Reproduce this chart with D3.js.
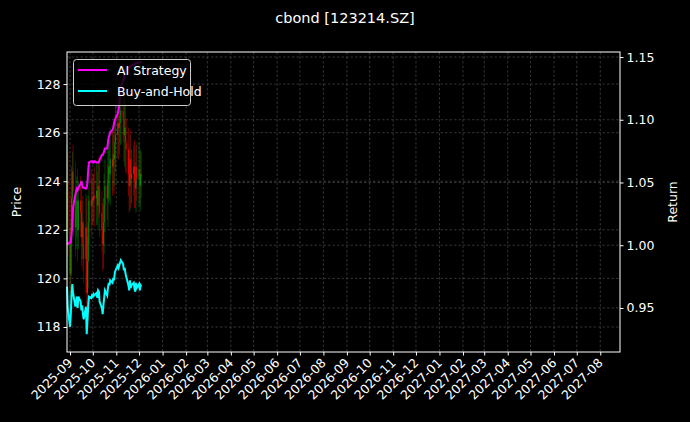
<!DOCTYPE html>
<html><head><meta charset="utf-8">
<script src="https://cdn.jsdelivr.net/npm/d3@7"></script>
<style>body{margin:0;background:#000}text{font-family:"DejaVu Sans",sans-serif}</style>
</head><body><svg id="c" width="690" height="422"></svg>
<script>
const startDate = "2025-08-28", endDate = "2025-12-04";
const xDomain = ["2025-08-28", "2027-08-27"];
const priceTicks = [118,120,122,124,126,128];
const returnTicks = [0.95,1.00,1.05,1.10,1.15];
const aiReturn = [1.002,1.001,1.002,1.003,1.008,1.016,1.030,1.040,1.043,1.045,
1.044,1.046,1.049,1.051,1.048,1.046,1.046,1.045,1.046,1.050,
1.060,1.066,1.067,1.067,1.066,1.066,1.067,1.066,1.066,1.066,
1.066,1.068,1.072,1.072,1.073,1.075,1.077,1.077,1.082,1.086,
1.088,1.090,1.092,1.094,1.097,1.100,1.101,1.105,1.108,1.113,
1.120,1.126,1.131,1.134,1.137,1.139,1.140,1.141,1.142,1.142,
1.143,1.143,1.144,1.144,1.145,1.145,1.145,1.146,1.146,1.146,1.147];
const bhReturn = [0.967,0.950,0.935,0.945,0.960,0.969,
0.962,0.951,0.955,0.959,0.950,
0.959,0.955,0.948,0.952,0.945,0.941,
0.951,0.929,0.940,0.952,
0.959,0.958,0.960,0.959,0.961,0.960,0.962,
0.958,0.964,0.963,0.955,0.950,0.945,0.952,
0.958,0.964,0.960,0.966,0.970,0.968,0.972,
0.970,0.974,0.972,0.978,0.980,0.984,0.982,
0.984,0.986,0.988,0.985,0.980,0.982,0.978,
0.975,0.968,0.964,0.972,0.966,0.968,0.970,
0.965,0.963,0.970,0.966,0.969,0.964,0.968,0.967];
const closePrice = [124.0,122.1,120.2,121.4,123.3,124.4,
123.6,122.1,122.7,123.2,122.0,
123.2,122.7,121.7,122.3,121.4,120.8,
122.1,119.4,120.7,122.3,
123.2,123.0,123.3,123.2,123.4,123.3,123.6,
123.0,123.8,123.7,122.7,122.0,121.4,122.3,
123.0,123.8,123.3,124.1,124.6,124.3,124.9,
124.6,125.1,124.9,125.6,125.9,126.4,126.2,
126.4,126.7,126.9,126.6,125.9,126.2,125.6,
125.3,124.3,123.8,124.9,124.1,124.3,124.6,
124.0,123.7,124.6,124.1,124.5,123.8,124.3,124.2];
const openPrice = [121.5,124.0,122.1,120.2,121.4,123.3,
124.4,123.6,122.1,122.7,123.2,
122.0,123.2,122.7,121.7,122.3,121.4,
120.8,122.1,119.4,120.7,
122.3,123.2,123.0,123.3,123.2,123.4,123.3,
123.6,123.0,123.8,123.7,122.7,122.0,121.4,
122.3,123.0,123.8,123.3,124.1,124.6,124.3,
124.9,124.6,125.1,124.9,125.6,125.9,126.4,
126.2,126.4,126.7,126.9,126.6,125.9,126.2,
125.6,125.3,124.3,123.8,124.9,124.1,124.3,
124.6,124.0,123.7,124.6,124.1,124.5,123.8,124.3];
const wick = [1.5,1.2,1.4,1.0,1.3,0.8,1.1,1.2,0.9,1.0,1.3,0.8,1.0,1.2,0.9,1.1,1.0,1.4,1.2,1.0,
1.1,0.9,1.3,0.8,1.0,0.9,1.2,1.1,0.8,1.0,1.2,1.0,0.9,1.1,1.0,1.3,1.1,0.9,1.2,1.0,
1.1,1.3,1.2,1.0,1.4,1.1,1.2,1.0,1.3,1.1,0.9,1.2,1.0,1.1,1.3,1.2,1.0,0.9,1.1,1.0,
1.2,1.0,0.9,1.1,0.8,1.0,0.9,1.1,0.8,1.0,0.9];

const pd = d3.timeParse("%Y-%m-%d");
const dates = d3.timeDay.range(pd(startDate), d3.timeDay.offset(pd(endDate),1)).filter(d=>d.getDay()%6!==0);
const svg = d3.select("#c");
const L=67,R=620,T=52,B=352;
const x = d3.scaleTime().domain(xDomain.map(pd)).range([L,R]);
const y = d3.scaleLinear().domain([116.97,129.32]).range([B,T]);
const y2 = d3.scaleLinear().domain([0.9149,1.154]).range([B,T]);
const months = d3.timeMonth.range(pd("2025-09-01"), pd("2027-08-02"));

const grid = svg.append("g").attr("stroke","#555").attr("stroke-width",0.6).attr("stroke-dasharray","2.5,2");
months.forEach(m=>grid.append("line").attr("x1",x(m)).attr("x2",x(m)).attr("y1",T).attr("y2",B));
priceTicks.forEach(v=>grid.append("line").attr("x1",L).attr("x2",R).attr("y1",y(v)).attr("y2",y(v)));
returnTicks.forEach(v=>grid.append("line").attr("x1",L).attr("x2",R).attr("y1",y2(v)).attr("y2",y2(v)));

const cg = svg.append("g");
dates.forEach((d,i)=>{
  const o=openPrice[i],c=closePrice[i],up=c>=o,col=up?"#00a000":"#ff0000";
  const hi=Math.max(o,c)+wick[i], lo=Math.min(o,c)-wick[i];
  cg.append("line").attr("x1",x(d)).attr("x2",x(d)).attr("y1",y(hi)).attr("y2",y(lo)).attr("stroke",col).attr("stroke-width",0.6).attr("opacity",0.7);
  cg.append("rect").attr("x",x(d)-0.5).attr("width",1).attr("y",y(Math.max(o,c))).attr("height",Math.max(0.5,Math.abs(y(o)-y(c)))).attr("fill",col).attr("opacity",0.8);
});
const line = arr=>d3.line().x((d,i)=>x(dates[i])).y(d=>y2(d))(arr);
svg.append("path").attr("d",line(aiReturn)).attr("fill","none").attr("stroke","#ff00ff").attr("stroke-width",2);
svg.append("path").attr("d",line(bhReturn)).attr("fill","none").attr("stroke","#00ffff").attr("stroke-width",2);

const ax = svg.append("g").attr("transform",`translate(0,${B})`).call(d3.axisBottom(x).tickValues(months).tickFormat(d3.timeFormat("%Y-%m")).tickSize(3.5));
ax.selectAll("text").attr("transform","rotate(-45)").attr("text-anchor","end").attr("dx","-0.5em").attr("dy","0.3em");
const ay = svg.append("g").attr("transform",`translate(${L},0)`).call(d3.axisLeft(y).tickValues(priceTicks).tickSize(3.5));
const ay2 = svg.append("g").attr("transform",`translate(${R},0)`).call(d3.axisRight(y2).tickValues(returnTicks).tickFormat(d3.format(".2f")).tickSize(3.5));
[ax,ay,ay2].forEach(g=>{g.select(".domain").remove();g.selectAll("line").attr("stroke","#fff");g.selectAll("text").attr("fill","#fff").attr("font-size",12.5).attr("font-family","DejaVu Sans");});
svg.append("rect").attr("x",L).attr("y",T).attr("width",R-L).attr("height",B-T).attr("fill","none").attr("stroke","#fff").attr("stroke-width",1);

svg.append("text").attr("x",345).attr("y",23).attr("text-anchor","middle").attr("fill","#fff").attr("font-size",14.5).text("cbond [123214.SZ]");
svg.append("text").attr("transform",`translate(21,${(T+B)/2}) rotate(-90)`).attr("text-anchor","middle").attr("fill","#fff").attr("font-size",12.5).text("Price");
svg.append("text").attr("transform",`translate(677,${(T+B)/2}) rotate(-90)`).attr("text-anchor","middle").attr("fill","#fff").attr("font-size",12.5).text("Return");

const lg = svg.append("g");
lg.append("rect").attr("x",73.5).attr("y",59.5).attr("width",117).attr("height",46).attr("rx",3).attr("fill","#000").attr("fill-opacity",0.8).attr("stroke","#ccc").attr("stroke-width",1);
[["AI Strategy","#ff00ff",70],["Buy-and-Hold","#00ffff",91]].forEach(([t,c,yy])=>{
  lg.append("line").attr("x1",78).attr("x2",107).attr("y1",yy).attr("y2",yy).attr("stroke",c).attr("stroke-width",2);
  lg.append("text").attr("x",117).attr("y",yy+4.5).attr("fill","#fff").attr("font-size",12.5).text(t);
});
</script></body></html>
